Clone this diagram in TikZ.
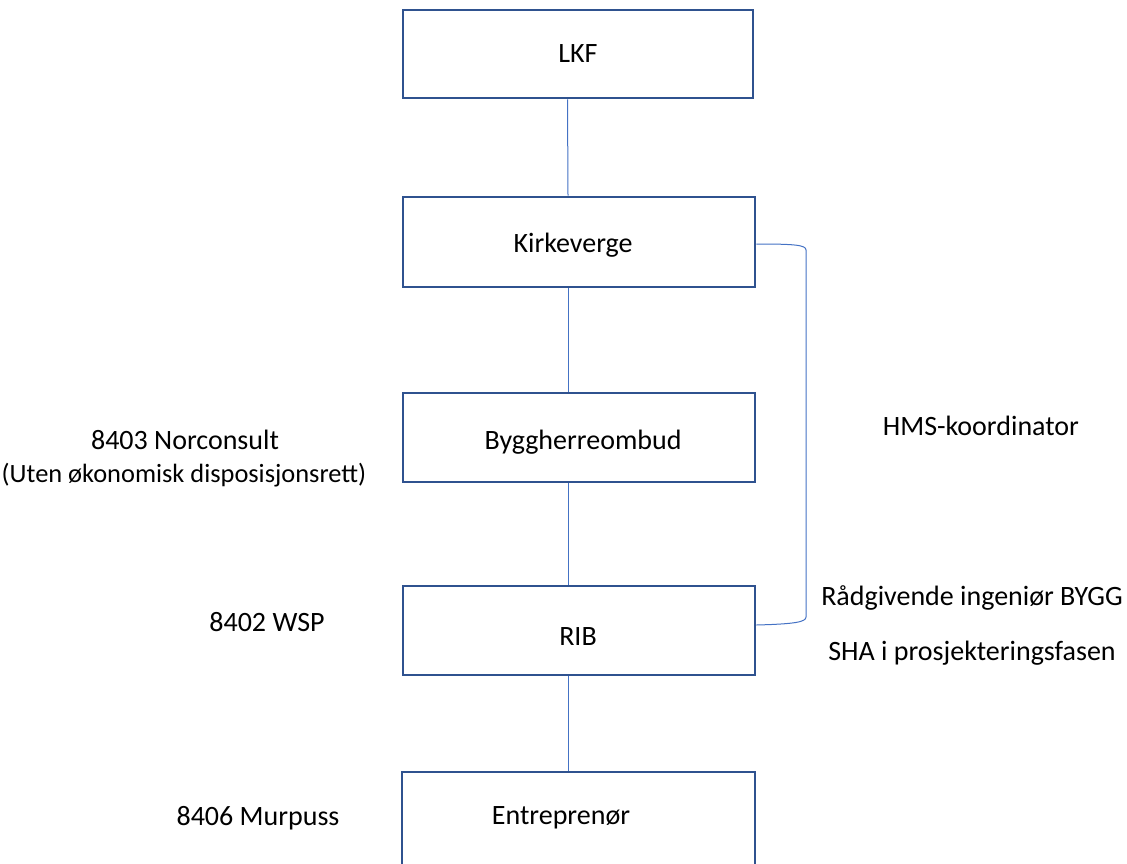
\documentclass[tikz,border=0pt]{standalone}
\usepackage{fontspec}
\setmainfont{Carlito}
\definecolor{boxblue}{HTML}{2F528F}
\definecolor{linkblue}{HTML}{4472C4}
\begin{document}
\begin{tikzpicture}[x=1pt,y=-1pt,
  box/.style={draw=boxblue,line width=2.8pt,fill=white,inner sep=0pt},
  conn/.style={draw=linkblue,line width=1pt},
  lbl/.style={inner sep=0pt,anchor=center},
  every node/.style={font=\fontsize{28}{34}\selectfont}]
\useasboundingbox (0,0) rectangle (1127,864);
\begin{scope}
\clip (0,0) rectangle (1127,864);
\node[box,minimum width=350pt,minimum height=88pt] (lkf) at (578,54) {LKF};
\node[box,minimum width=352pt,minimum height=90pt] (kirk) at (579,242) {};
\node[box,minimum width=352pt,minimum height=89pt] (bho) at (579,437.5) {};
\node[box,minimum width=352pt,minimum height=89pt] (rib) at (579,630.5) {};
\node[box,minimum width=353pt,minimum height=96pt] (ent) at (578.5,820) {};
\end{scope}
\node[lbl] (tkirk) at (573,245) {Kirkeverge};
\node[lbl] (tbho) at (583,442) {Byggherreombud};
\node[lbl] (trib) at (578,637) {RIB};
\node[lbl] (tent) at (561,818) {Entreprenør};
\draw[conn] ([xshift=-10.5pt]lkf.south) -- ([xshift=-11pt]kirk.north);
\draw[conn] ([xshift=-11pt]kirk.south) -- ([xshift=-11pt]bho.north);
\draw[conn] ([xshift=-11pt]bho.south) -- ([xshift=-11pt]rib.north);
\draw[conn] ([xshift=-11pt]rib.south) -- ([xshift=-10.5pt]ent.north);
\draw[conn] ([yshift=-2pt]kirk.east) .. controls (795,244) and (806,245) .. (806,250) -- (806,617) .. controls (806,622) and (795,624) .. ([yshift=5.5pt]rib.east);
\node[lbl] (nor) at (185,440) {8403 Norconsult};
\node[lbl,font=\fontsize{26.4}{32}\selectfont] (uten) at (184,475) {(Uten økonomisk disposisjonsrett)};
\node[lbl] (wsp) at (267,622) {8402 WSP};
\node[lbl] (mur) at (258,818) {8406 Murpuss};
\node[lbl] (hms) at (981,426) {HMS-koordinator};
\node[lbl] (rad) at (972,598) {Rådgivende ingeniør BYGG};
\node[lbl] (sha) at (972,653) {SHA i prosjekteringsfasen};
\end{tikzpicture}
\end{document}
